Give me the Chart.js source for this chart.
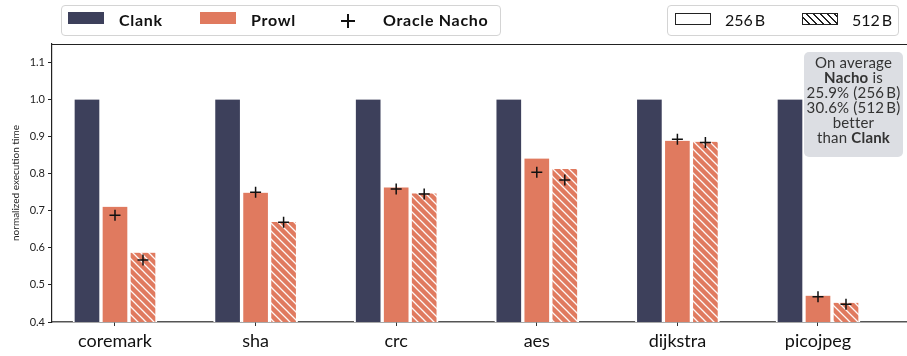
<!DOCTYPE html>
<html>
<head>
<meta charset="utf-8">
<title>Normalized execution time</title>
<script src="https://cdn.jsdelivr.net/npm/chart.js@4.4.1/dist/chart.umd.min.js"></script>
<style>
  html, body { margin: 0; padding: 0; background: #fff; }
  #wrap { position: relative; width: 907px; height: 356px; overflow: hidden; font-family: Lato, "Open Sans", sans-serif; color: #111; }
  #chart { position: absolute; left: 0; top: 0; }
  .legend { position: absolute; top: 5px; height: 31px; box-sizing: border-box; border: 1px solid #d4d4d4; border-radius: 4px; background: #fff; }
  .sw { position: absolute; top: 12px; width: 36px; height: 12px; box-sizing: border-box; }
  .lt { position: absolute; top: 0; height: 40px; line-height: 40px; font-size: 16px; white-space: nowrap; }
  .lt.b { font-weight: 700; letter-spacing: 0.7px; }
  .cross { position: absolute; width: 14px; height: 14px; }
  .cross::before, .cross::after { content: ""; position: absolute; background: #111; }
  .cross::before { left: 6px; top: 0; width: 1.6px; height: 14px; }
  .cross::after { left: 0; top: 6px; width: 14px; height: 1.6px; }
  #note { position: absolute; left: 804px; top: 52px; width: 99px; height: 105px; background: #dcdee3; border-radius: 5px; text-align: center; font-size: 15px; letter-spacing: 0.2px; line-height: 15px; color: #333; padding-top: 3px; box-sizing: border-box; white-space: nowrap; }
</style>
</head>
<body>
<div id="wrap">
  <canvas id="chart" width="907" height="356"></canvas>

  <div class="legend" style="left:61px; width:440px;"></div>
  <div class="sw" style="left:68px; background:#3d405b;"></div>
  <div class="lt b" style="left:119px;">Clank</div>
  <div class="sw" style="left:200px; background:#e07a5f;"></div>
  <div class="lt b" style="left:251px;">Prowl</div>
  <div class="cross" style="left:341px; top:14px;"></div>
  <div class="lt b" style="left:383px;">Oracle Nacho</div>

  <div class="legend" style="left:667px; width:232px;"></div>
  <div class="sw" style="left:675px; top:13px; border:1px solid #222; background:#fff;"></div>
  <div class="lt" style="left:725px;">256&#8201;B</div>
  <div class="sw" style="left:802px; top:13px; border:1px solid #222; background:repeating-linear-gradient(45deg, #fff 0px, #fff 3.6px, #222 3.6px, #222 5px);"></div>
  <div class="lt" style="left:852px;">512&#8201;B</div>

  <div id="note">On average<br><b>Nacho</b> is<br>25.9%&nbsp;(256&#8201;B)<br>30.6%&nbsp;(512&#8201;B)<br>better<br>than <b>Clank</b></div>
</div>

<script>
// Benchmarks and normalized execution times (Clank = 1.0)
const categories = ['coremark', 'sha', 'crc', 'aes', 'dijkstra', 'picojpeg'];
const clank    = [1.0, 1.0, 1.0, 1.0, 1.0, 1.0];
const prowl256 = [0.711, 0.749, 0.763, 0.841, 0.889, 0.471];
const prowl512 = [0.587, 0.670, 0.747, 0.813, 0.886, 0.452];
const nacho256 = [0.688, 0.750, 0.759, 0.804, 0.893, 0.468];
const nacho512 = [0.567, 0.669, 0.745, 0.783, 0.884, 0.448];
const yTicks   = [0.4, 0.5, 0.6, 0.7, 0.8, 0.9, 1.0, 1.1];

const NAVY = '#3d405b';
const SALMON = '#e07a5f';

// Diagonal white hatch over salmon for the 512 B bars
function hatchPattern() {
  const c = document.createElement('canvas');
  c.width = 8; c.height = 8;
  const g = c.getContext('2d');
  g.fillStyle = SALMON;
  g.fillRect(0, 0, 8, 8);
  g.strokeStyle = 'rgba(255,255,255,0.95)';
  g.lineWidth = 1.3;
  g.beginPath();
  g.moveTo(-1, -1); g.lineTo(9, 9);
  g.moveTo(-1, 7); g.lineTo(1, 9);
  g.moveTo(7, -1); g.lineTo(9, 1);
  g.stroke();
  return g.createPattern(c, 'repeat');
}

const toPoints = arr => arr.map((v, i) => ({ x: i, y: v }));

// Top frame line and the Oracle Nacho "+" markers placed on the Prowl bars
const overlay = {
  id: 'overlay',
  afterDatasetsDraw(chart) {
    const { ctx, chartArea, scales } = chart;
    ctx.save();
    ctx.strokeStyle = '#222';
    ctx.lineWidth = 1.2;
    ctx.beginPath();
    ctx.moveTo(chartArea.left, chartArea.top + 0.5);
    ctx.lineTo(chartArea.right, chartArea.top + 0.5);
    ctx.stroke();

    const r = 5.5;
    ctx.strokeStyle = '#111';
    ctx.lineWidth = 1.5;
    [[1, nacho256], [2, nacho512]].forEach(([di, vals]) => {
      chart.getDatasetMeta(di).data.forEach((bar, i) => {
        const x = bar.x;
        const y = scales.y.getPixelForValue(vals[i]);
        ctx.beginPath();
        ctx.moveTo(x - r, y); ctx.lineTo(x + r, y);
        ctx.moveTo(x, y - r); ctx.lineTo(x, y + r);
        ctx.stroke();
      });
    });
    ctx.restore();
  }
};

const sideBorder = { left: 2, right: 2, top: 0, bottom: 0 };

new Chart(document.getElementById('chart'), {
  type: 'bar',
  data: {
    datasets: [
      { label: 'Clank', data: toPoints(clank), backgroundColor: NAVY, borderColor: '#ffffff', borderWidth: sideBorder },
      { label: 'Prowl (256 B)', data: toPoints(prowl256), backgroundColor: SALMON, borderColor: '#ffffff', borderWidth: sideBorder },
      { label: 'Prowl (512 B)', data: toPoints(prowl512), backgroundColor: hatchPattern(), borderColor: '#ffffff', borderWidth: sideBorder }
    ]
  },
  options: {
    responsive: false,
    animation: false,
    devicePixelRatio: 1,
    barThickness: 28,
    layout: { padding: { top: 44, right: 0, bottom: 0, left: 0 } },
    plugins: { legend: { display: false }, tooltip: { enabled: false } },
    scales: {
      x: {
        type: 'linear',
        offset: false,
        min: -0.448,
        max: 5.633,
        afterBuildTicks: s => { s.ticks = categories.map((_, i) => ({ value: i })); },
        afterFit: s => { s.height = 34; },
        ticks: {
          autoSkip: false,
          maxRotation: 0,
          padding: 4,
          color: '#111',
          font: { family: 'Lato', size: 18 },
          callback: v => categories[v]
        },
        grid: { offset: false, drawOnChartArea: false, drawTicks: true, tickLength: 4, tickColor: '#333' },
        border: { display: true, color: '#555', width: 1.5 }
      },
      y: {
        min: 0.4,
        max: 1.15,
        afterBuildTicks: s => { s.ticks = yTicks.map(v => ({ value: v })); },
        afterFit: s => { s.width = 52; },
        ticks: {
          padding: 3,
          color: '#222',
          font: { family: 'Lato', size: 11 },
          callback: v => Number(v).toFixed(1)
        },
        grid: { drawOnChartArea: false, drawTicks: true, tickLength: 4, tickColor: '#222' },
        border: { display: true, color: '#222', width: 1.2 },
        title: {
          display: true,
          text: 'normalized execution time',
          color: '#222',
          font: { family: 'Lato', size: 10 },
          padding: { top: 10, bottom: 0 }
        }
      }
    }
  },
  plugins: [overlay]
});
</script>
</body>
</html>
